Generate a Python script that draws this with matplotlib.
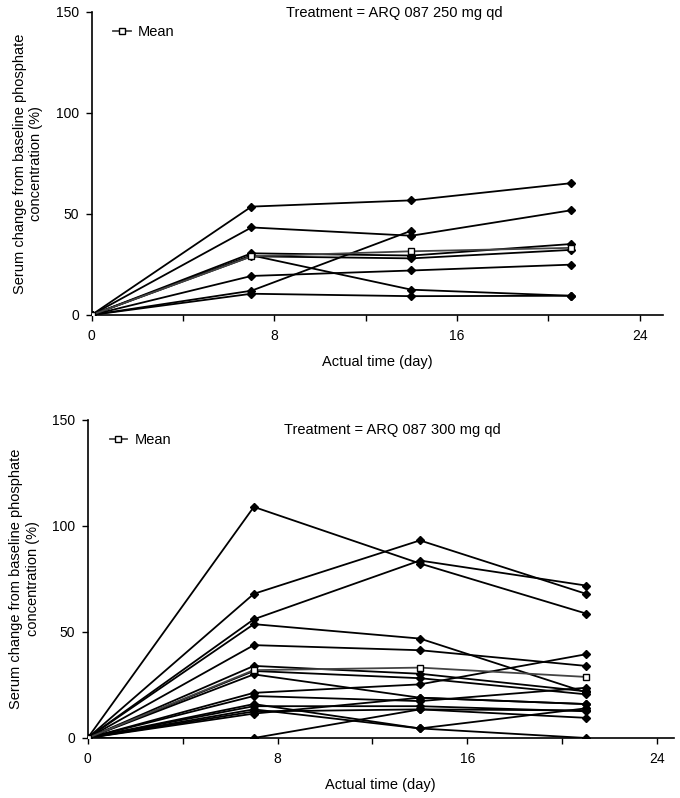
import numpy as np
import matplotlib.pyplot as plt

# --------------------------
# Data
# --------------------------
days = [0, 7, 14, 21]

# ARQ 087 250 mg qd, one list per patient
top_patients = [
    [0, 53.6, 56.7, 65.2],
    [0, 43.3, 39.2, 51.8],
    [0, 12.0, 41.7],
    [0, 30.5, 29.4, 35.1],
    [0, 29.0, 28.0, 32.2],
    [0, 29.5, 12.5, 9.5],
    [0, 19.3, 22.0, 24.9],
    [0, 10.5, 9.3, 9.5],
]
top_mean = [0, 29.0, 31.5, 33.2]

# ARQ 087 300 mg qd
bottom_patients = [
    [0, 109.0, 82.3, 58.7],
    [0, 68.0, 93.2, 68.0],
    [0, 56.0, 83.7, 71.9],
    [0, 53.7, 46.9, 21.5],
    [0, 43.8, 41.4, 34.0],
    [0, 34.0, 30.3, 22.0],
    [0, 31.6, 28.2, 20.6],
    [0, 30.0, 19.0, 16.0],
    [0, 21.3, 25.3, 39.5],
    [0, 19.8, 17.4, 23.7],
    [0, 16.0, 4.5, 0.0],
    [0, 15.0, 15.0, 12.6],
    [0, 13.5, 4.5, 14.0],
    [0, 12.5, 13.5, 9.5],
    [0, 11.5, 19.0, 16.0],
    [0, 0.0, 13.5, 13.0],
]
bottom_mean = [0, 32.0, 33.2, 28.8]

titles = ["Treatment = ARQ 087 250 mg qd", "Treatment = ARQ 087 300 mg qd"]
xticks = [0, 4, 8, 12, 16, 20, 24]
xtick_labels = ["0", "", "8", "", "16", "", "24"]
yticks = [0, 50, 100, 150]

plt.rcParams['font.family'] = ['Liberation Sans', 'DejaVu Sans']

fig = plt.figure(figsize=(6.8, 7.98), dpi=100)
ax_top = fig.add_axes([0.1346, 0.6053, 0.840, 0.380])
ax_bot = fig.add_axes([0.129, 0.0752, 0.862, 0.3985])


def draw_panel(ax, patients, mean, title, xmax, title_x, title_y):
    for p in patients:
        ax.plot(days[:len(p)], p, color='black', lw=1.3, marker='D',
                markersize=3.6, zorder=2)
    ax.plot(days, mean, color='#444444', lw=1.3, marker='s', markersize=5,
            markerfacecolor='white', markeredgecolor='black', zorder=3,
            label='Mean')
    ax.set_xlim(0, xmax)
    ax.set_ylim(0, 150)
    ax.set_xticks(xticks)
    ax.set_xticklabels(xtick_labels)
    ax.set_yticks(yticks)
    ax.tick_params(labelsize=10, length=4, width=1, direction='out')
    ax.tick_params(axis='x', pad=6)
    ax.tick_params(axis='y', pad=5)
    for s in ['top', 'right']:
        ax.spines[s].set_visible(False)
    for s in ['left', 'bottom']:
        ax.spines[s].set_linewidth(1.2)
    ax.set_xlabel("Actual time (day)", fontsize=10.5, labelpad=9)
    ax.set_ylabel("Serum change from baseline phosphate\nconcentration (%)",
                  fontsize=10.5, labelpad=9)
    ax.text(title_x, title_y, title, transform=ax.transAxes, ha='center',
            va='center', fontsize=10.5)
    ax.legend(loc='upper left', bbox_to_anchor=(0.015, 1.0), frameon=False,
              fontsize=10.5, handlelength=1.2, handletextpad=0.5)


draw_panel(ax_top, top_patients, top_mean, titles[0], 25, 0.53, 0.995)
draw_panel(ax_bot, bottom_patients, bottom_mean, titles[1], 24.7, 0.52, 0.97)

fig.savefig("out.png", dpi=100)
